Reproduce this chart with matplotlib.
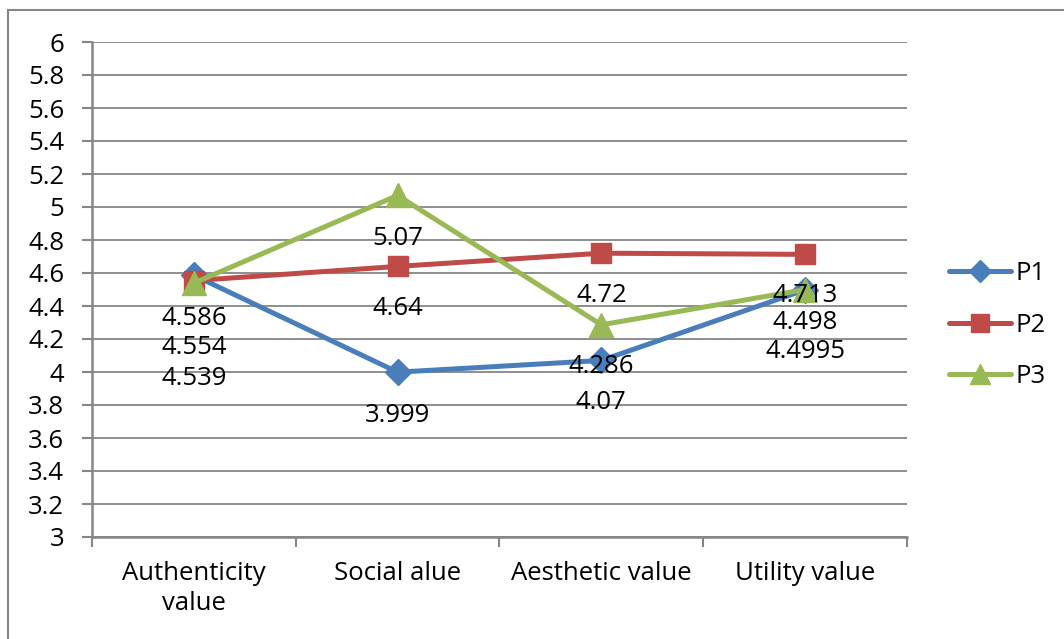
import numpy as np
import matplotlib
matplotlib.use("Agg")
import matplotlib.pyplot as plt
from matplotlib.patches import Rectangle

plt.rcParams['font.family'] = ['Open Sans', 'DejaVu Sans']

categories = ['Authenticity\nvalue', 'Social alue', 'Aesthetic value', 'Utility value']
p1 = [4.586, 3.999, 4.07, 4.498]
p2 = [4.554, 4.64, 4.72, 4.713]
p3 = [4.539, 5.07, 4.286, 4.4995]
p1_labels = ['4.586', '3.999', '4.07', '4.498']
p2_labels = ['4.554', '4.64', '4.72', '4.713']
p3_labels = ['4.539', '5.07', '4.286', '4.4995']

# how far below each point its label sits (pixels), excel shuffled some to avoid overlap
p1_off = [43, 43, 42, 33]
p2_off = [67, 42, 42, 41]
p3_off = [95, 43, 42, 62]

fs = 18.5
grey = '#868686'

fig = plt.figure(figsize=(10.64, 6.39), dpi=100)
fig.patches.append(Rectangle((8 / 1064, -0.1), 1.2, 1 - 10 / 639 + 0.1, transform=fig.transFigure,
                             fill=False, edgecolor=grey, linewidth=1.5))
ax = fig.add_axes([92 / 1064, 1 - 537 / 639, (907 - 92) / 1064, (537 - 42) / 639])

x = np.arange(len(categories))
series = [(p1, p1_labels, p1_off, '#4A7EBB', 'D', 13, 'P1'),
          (p2, p2_labels, p2_off, '#BE4B48', 's', 15, 'P2'),
          (p3, p3_labels, p3_off, '#98B954', '^', 17, 'P3')]

for vals, labs, offs, col, mk, ms, name in series:
    ax.plot(x, vals, color=col, lw=3.6, marker=mk, markersize=ms, label=name,
            solid_capstyle='round', solid_joinstyle='round')
for vals, labs, offs, col, mk, ms, name in series:
    for i, v in enumerate(vals):
        ax.annotate(labs[i], (x[i], v), xytext=(0, -offs[i] * 0.72), textcoords='offset points',
                    ha='center', va='center', fontsize=fs, color='black', zorder=5)

ax.set_xlim(-0.5, 3.5)
ax.set_ylim(3, 6)
ax.set_yticks(np.arange(3, 6.01, 0.2))
ax.set_yticklabels(['3', '3.2', '3.4', '3.6', '3.8', '4', '4.2', '4.4', '4.6', '4.8',
                    '5', '5.2', '5.4', '5.6', '5.8', '6'])
ax.set_xticks(np.arange(-0.5, 3.6, 1))
ax.set_xticklabels([])
ax.set_xticks(x, minor=True)
ax.set_xticklabels(categories, minor=True, fontsize=fs, linespacing=1.3)
ax.tick_params(axis='x', which='major', length=7, width=1.5, color=grey, direction='out')
ax.tick_params(axis='x', which='minor', length=0, pad=17)
ax.tick_params(axis='y', length=7, width=1.5, color=grey, direction='out', labelsize=fs, pad=13)

ax.grid(axis='y', color=grey, lw=1.3)
ax.set_axisbelow(True)
for s in ['top', 'right']:
    ax.spines[s].set_visible(False)
for s in ['left', 'bottom']:
    ax.spines[s].set_color(grey)
    ax.spines[s].set_linewidth(1.8)

leg = fig.legend(loc='center left', bbox_to_anchor=(949 / 1064, 1 - 325 / 639), frameon=False,
                 fontsize=fs, handlelength=2.4, handletextpad=0.2, labelspacing=1.05,
                 borderpad=0, borderaxespad=0, markerscale=0.85)

fig.savefig('out.png', dpi=100)
